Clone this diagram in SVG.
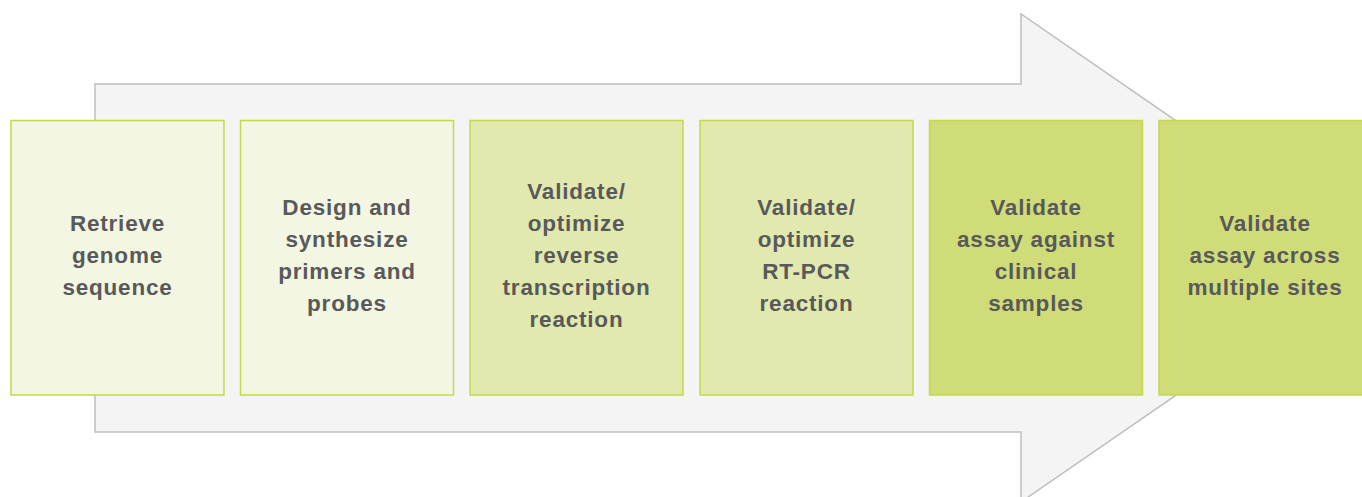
<svg xmlns="http://www.w3.org/2000/svg" width="1362" height="497" viewBox="0 0 1362 497">
<style>
.box{stroke:#c3d94a;stroke-width:1.5}
.l1{fill:#f3f6e2}
.l2{fill:#e1e9ae}
.l3{fill:#d0dc77}
text{font-family:"Liberation Sans",Arial,sans-serif;font-weight:bold;font-size:22.5px;fill:#595959;text-anchor:middle;letter-spacing:0.8px}
</style>
<g id="arrow">
<path d="M95,84 H1021 V14 L1375,258 L1021,502 V432 H95 Z" fill="#f4f4f4" stroke="#bfbfbf" stroke-width="1.5"/>
</g>
<g id="connectors"></g>
<g id="n1">
<rect class="box l1" x="11" y="120.5" width="213" height="274.5"/>
<text x="117.5" y="231">Retrieve</text>
<text x="117.5" y="263">genome</text>
<text x="117.5" y="295">sequence</text>
</g>
<g id="n2">
<rect class="box l1" x="240.5" y="120.5" width="213" height="274.5"/>
<text x="347" y="215">Design and</text>
<text x="347" y="247">synthesize</text>
<text x="347" y="279">primers and</text>
<text x="347" y="311">probes</text>
</g>
<g id="n3">
<rect class="box l2" x="470" y="120.5" width="213" height="274.5"/>
<text x="576.5" y="199">Validate/</text>
<text x="576.5" y="231">optimize</text>
<text x="576.5" y="263">reverse</text>
<text x="576.5" y="295">transcription</text>
<text x="576.5" y="327">reaction</text>
</g>
<g id="n4">
<rect class="box l2" x="700" y="120.5" width="213" height="274.5"/>
<text x="806.5" y="215">Validate/</text>
<text x="806.5" y="247">optimize</text>
<text x="806.5" y="279">RT-PCR</text>
<text x="806.5" y="311">reaction</text>
</g>
<g id="n5">
<rect class="box l3" x="929.5" y="120.5" width="213" height="274.5"/>
<text x="1036" y="215">Validate</text>
<text x="1036" y="247">assay against</text>
<text x="1036" y="279">clinical</text>
<text x="1036" y="311">samples</text>
</g>
<g id="n6">
<rect class="box l3" x="1159" y="120.5" width="213" height="274.5"/>
<text x="1265" y="231">Validate</text>
<text x="1265" y="263">assay across</text>
<text x="1265" y="295">multiple sites</text>
</g>
</svg>
